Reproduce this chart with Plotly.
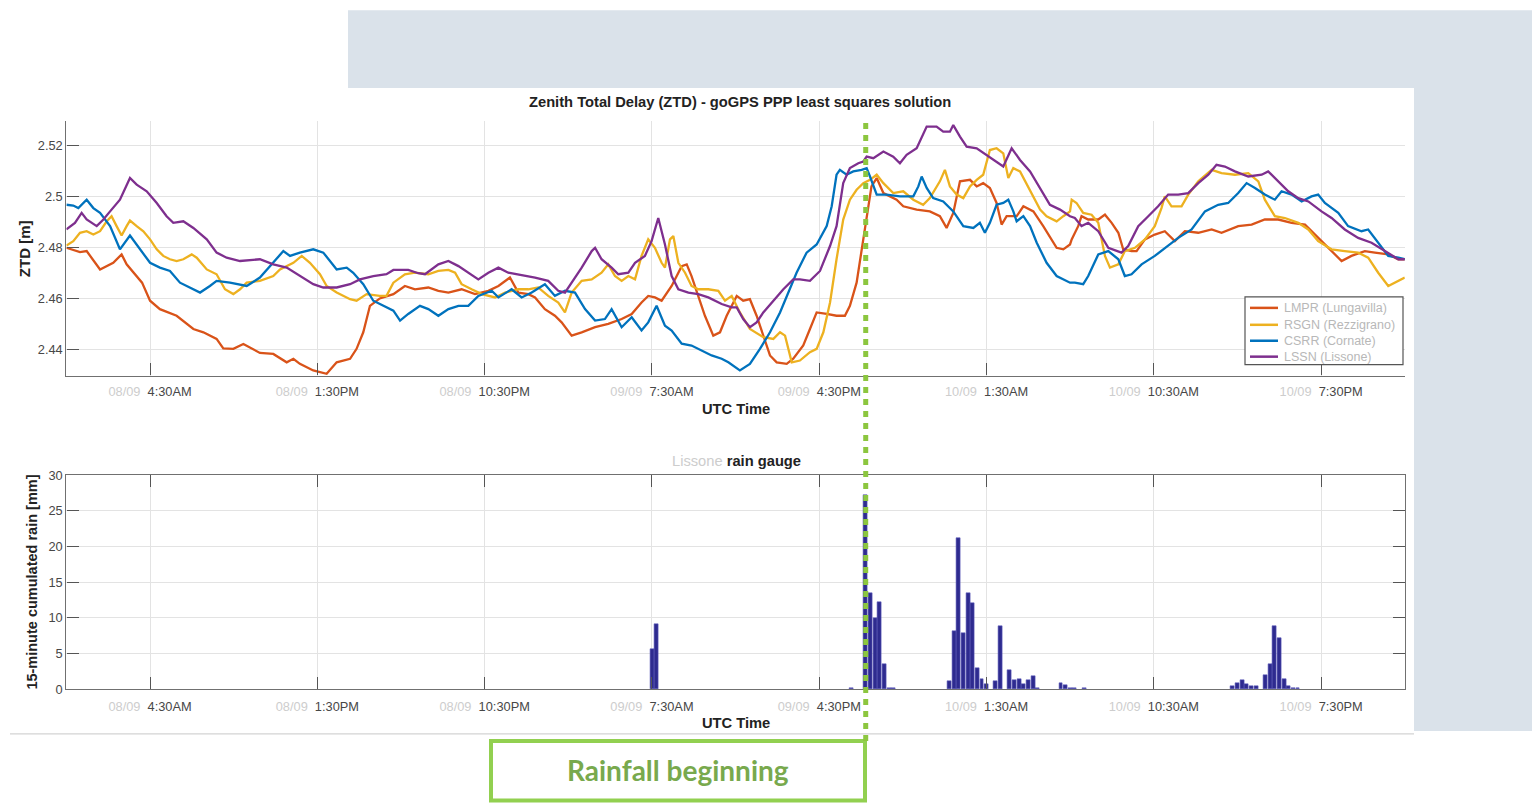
import pandas as pd
import plotly.graph_objects as go

# ---------------- data ----------------
BASE = pd.Timestamp("2017-09-08 00:00")  # 08/09 00:00 UTC

# ZTD [m] series as (hours since 08/09 00:00 UTC, value)
ztd_red = [
    (0.00, 2.4800), (0.73, 2.4783), (1.09, 2.4787), (1.81, 2.4715), (2.52, 2.4741), (2.97, 2.4774),
    (3.24, 2.4735), (4.07, 2.4663), (4.50, 2.4592), (5.03, 2.4559), (5.93, 2.4533), (6.83, 2.4481),
    (7.37, 2.4468), (8.08, 2.4442), (8.44, 2.4405), (8.98, 2.4403), (9.52, 2.4422), (10.41, 2.4387),
    (11.13, 2.4383), (11.85, 2.4350), (12.21, 2.4364), (12.56, 2.4344), (13.28, 2.4318), (14.00, 2.4305),
    (14.54, 2.4350), (15.26, 2.4364), (15.61, 2.4403), (15.97, 2.4468), (16.33, 2.4572), (16.86, 2.4601),
    (17.59, 2.4618), (17.95, 2.4637),
    (18.21, 2.4650), (18.75, 2.4637), (19.47, 2.4644), (20.01, 2.4631), (20.55, 2.4624), (21.26, 2.4637),
    (21.98, 2.4618), (22.70, 2.4631), (23.24, 2.4650), (23.86, 2.4683), (24.31, 2.4624), (24.85, 2.4618),
    (25.21, 2.4605), (25.74, 2.4559), (26.28, 2.4533), (26.64, 2.4507), (27.18, 2.4455), (27.72, 2.4468),
    (28.44, 2.4488), (29.15, 2.4501), (29.87, 2.4520), (30.41, 2.4540), (30.94, 2.4585), (31.30, 2.4611),
    (31.66, 2.4605), (32.02, 2.4592), (32.56, 2.4650), (33.10, 2.4728), (33.37, 2.4735), (33.63, 2.4689),
    (33.99, 2.4611), (34.35, 2.4533), (34.80, 2.4455), (35.16, 2.4468), (35.52, 2.4533),
    (36.06, 2.4611), (36.41, 2.4592), (36.77, 2.4598), (37.13, 2.4533), (37.49, 2.4455), (37.85, 2.4377),
    (38.21, 2.4350), (38.75, 2.4344), (39.10, 2.4364), (39.64, 2.4416), (40.00, 2.4481), (40.36, 2.4546),
    (40.90, 2.4540), (41.43, 2.4533), (41.88, 2.4533), (42.15, 2.4572), (42.51, 2.4663), (42.78, 2.4794),
    (43.05, 2.4924), (43.31, 2.5041), (43.59, 2.5074), (43.95, 2.5015), (44.66, 2.4989), (45.02, 2.4963),
    (45.74, 2.4950), (46.45, 2.4943), (46.99, 2.4924), (47.35, 2.4878), (47.71, 2.4937), (48.07, 2.5061),
    (48.61, 2.5067), (48.97, 2.5041), (49.32, 2.5054), (49.68, 2.5035), (50.04, 2.4976), (50.31, 2.4891),
    (50.58, 2.4924), (51.12, 2.4924), (51.48, 2.4963), (52.02, 2.4943), (52.55, 2.4885), (53.27, 2.4800),
    (53.63, 2.4794), (53.99, 2.4813),
    (54.08, 2.4833), (54.43, 2.4885), (54.61, 2.4924), (54.97, 2.4911), (55.51, 2.4911), (55.87, 2.4930),
    (56.23, 2.4898), (56.59, 2.4859), (56.85, 2.4794), (57.30, 2.4787), (57.57, 2.4787), (58.02, 2.4833),
    (58.55, 2.4852), (59.09, 2.4865), (59.63, 2.4826), (60.17, 2.4865), (60.89, 2.4859), (61.61, 2.4872),
    (62.14, 2.4859), (63.04, 2.4885), (63.76, 2.4891), (64.47, 2.4911), (65.19, 2.4911), (65.91, 2.4898),
    (66.63, 2.4891), (67.16, 2.4852), (67.70, 2.4813), (68.06, 2.4787), (68.60, 2.4748), (69.13, 2.4768),
    (69.85, 2.4787), (70.39, 2.4781), (71.11, 2.4774), (71.65, 2.4755), (72.00, 2.4755),
]

ztd_yellow = [
    (0.00, 2.4809), (0.37, 2.4826), (0.73, 2.4859), (1.09, 2.4865), (1.45, 2.4852), (1.81, 2.4865),
    (2.17, 2.4904), (2.43, 2.4924), (2.70, 2.4885), (2.97, 2.4848), (3.24, 2.4885), (3.42, 2.4907),
    (3.78, 2.4885), (4.14, 2.4865), (4.50, 2.4833), (4.86, 2.4794), (5.21, 2.4768), (5.57, 2.4755),
    (5.93, 2.4748), (6.29, 2.4755), (6.74, 2.4774), (7.01, 2.4761), (7.55, 2.4715), (8.08, 2.4696),
    (8.53, 2.4637), (8.98, 2.4618), (9.34, 2.4637), (9.70, 2.4663), (10.41, 2.4670), (11.13, 2.4689),
    (11.49, 2.4715), (12.21, 2.4741), (12.66, 2.4768), (13.10, 2.4741), (13.64, 2.4696), (14.00, 2.4650),
    (14.54, 2.4624), (15.26, 2.4598), (15.61, 2.4592), (16.15, 2.4618), (16.86, 2.4611), (17.22, 2.4611),
    (17.59, 2.4663), (17.95, 2.4683),
    (18.21, 2.4696), (18.75, 2.4702), (19.47, 2.4696), (20.01, 2.4709), (20.55, 2.4713), (20.91, 2.4702),
    (21.26, 2.4657), (21.80, 2.4637), (22.35, 2.4618), (23.06, 2.4605), (23.60, 2.4624), (24.31, 2.4637),
    (24.85, 2.4637), (25.38, 2.4644), (25.92, 2.4611), (26.46, 2.4585), (26.82, 2.4546), (27.18, 2.4624),
    (27.72, 2.4670), (28.26, 2.4676), (28.79, 2.4702), (29.15, 2.4735), (29.51, 2.4689), (29.87, 2.4670),
    (30.23, 2.4689), (30.59, 2.4676), (30.94, 2.4768), (31.30, 2.4833), (31.66, 2.4800), (32.02, 2.4741),
    (32.20, 2.4722), (32.47, 2.4833), (32.65, 2.4846), (32.92, 2.4741), (33.28, 2.4702), (33.63, 2.4650),
    (33.99, 2.4637), (34.53, 2.4637), (35.07, 2.4631), (35.43, 2.4592), (35.79, 2.4611),
    (36.23, 2.4546), (36.77, 2.4481), (37.49, 2.4449), (38.03, 2.4442), (38.39, 2.4468), (38.66, 2.4455),
    (39.02, 2.4350), (39.46, 2.4357), (40.00, 2.4390), (40.36, 2.4403), (40.72, 2.4468), (41.08, 2.4585),
    (41.43, 2.4755), (41.79, 2.4911), (42.15, 2.4989), (42.51, 2.5028), (42.87, 2.5054), (43.23, 2.5067),
    (43.59, 2.5087), (43.95, 2.5054), (44.48, 2.5015), (45.02, 2.5022), (45.56, 2.4989), (46.09, 2.4969),
    (46.45, 2.4995), (46.99, 2.5061), (47.26, 2.5106), (47.53, 2.5041), (47.89, 2.5009), (48.25, 2.4995),
    (48.61, 2.5041), (48.97, 2.5067), (49.32, 2.5087), (49.68, 2.5184), (50.04, 2.5191), (50.40, 2.5171),
    (50.67, 2.5074), (50.94, 2.5113), (51.30, 2.5100), (51.84, 2.5022), (52.38, 2.4950), (52.73, 2.4924),
    (53.27, 2.4904), (53.63, 2.4924), (53.99, 2.4943),
    (54.08, 2.4989), (54.34, 2.4976), (54.70, 2.4937), (55.15, 2.4930), (55.51, 2.4898), (55.87, 2.4768),
    (56.14, 2.4722), (56.59, 2.4735), (56.94, 2.4787), (57.48, 2.4800), (58.02, 2.4833), (58.55, 2.4885),
    (58.91, 2.4956), (59.09, 2.5002), (59.45, 2.4963), (59.99, 2.4963), (60.35, 2.5009), (60.89, 2.5061),
    (61.61, 2.5106), (62.14, 2.5093), (62.86, 2.5087), (63.58, 2.5093), (64.12, 2.5061), (64.47, 2.4989),
    (65.01, 2.4924), (65.55, 2.4917), (66.27, 2.4898), (66.81, 2.4872), (67.34, 2.4826), (68.06, 2.4794),
    (68.77, 2.4787), (69.49, 2.4781), (70.03, 2.4761), (70.57, 2.4702), (71.11, 2.4650), (71.65, 2.4670),
    (72.00, 2.4683),
]

ztd_blue = [
    (0.00, 2.4969), (0.37, 2.4966), (0.64, 2.4956), (1.09, 2.4989), (1.45, 2.4956), (1.81, 2.4937),
    (2.35, 2.4885), (2.88, 2.4794), (3.42, 2.4848), (3.96, 2.4794), (4.50, 2.4741), (5.03, 2.4722),
    (5.57, 2.4709), (6.11, 2.4663), (6.65, 2.4644), (7.19, 2.4624), (7.72, 2.4650), (8.08, 2.4670),
    (8.80, 2.4663), (9.70, 2.4650), (10.41, 2.4683), (11.13, 2.4741), (11.67, 2.4787), (12.03, 2.4768),
    (12.56, 2.4781), (13.28, 2.4794), (13.82, 2.4781), (14.54, 2.4715), (15.08, 2.4722), (15.43, 2.4702),
    (15.97, 2.4657), (16.51, 2.4592), (17.22, 2.4566), (17.59, 2.4553), (17.95, 2.4514),
    (18.39, 2.4540), (19.02, 2.4572), (19.47, 2.4559), (20.01, 2.4533), (20.55, 2.4559), (21.09, 2.4572),
    (21.62, 2.4572), (22.16, 2.4611), (22.88, 2.4631), (23.24, 2.4605), (23.95, 2.4637), (24.49, 2.4605),
    (25.03, 2.4624), (25.74, 2.4657), (26.28, 2.4611), (26.82, 2.4631), (27.36, 2.4624), (27.90, 2.4559),
    (28.44, 2.4514), (28.97, 2.4520), (29.33, 2.4559), (29.87, 2.4488), (30.41, 2.4527), (30.94, 2.4475),
    (31.30, 2.4507), (31.75, 2.4572), (32.20, 2.4494), (32.56, 2.4475), (33.10, 2.4423), (33.63, 2.4416),
    (34.17, 2.4396), (34.71, 2.4377), (35.25, 2.4364), (35.61, 2.4350),
    (36.23, 2.4318), (36.77, 2.4344), (37.31, 2.4403), (37.85, 2.4468), (38.39, 2.4546), (38.92, 2.4637),
    (39.28, 2.4702), (39.82, 2.4781), (40.36, 2.4813), (40.90, 2.4885), (41.17, 2.4963), (41.43, 2.5087),
    (41.61, 2.5106), (41.97, 2.5087), (42.33, 2.5100), (42.78, 2.5106), (43.05, 2.5113), (43.23, 2.5080),
    (43.59, 2.5009), (44.12, 2.5009), (44.84, 2.5002), (45.56, 2.5002), (45.83, 2.5041), (46.01, 2.5080),
    (46.28, 2.5035), (46.63, 2.4995), (47.17, 2.4982), (47.71, 2.4943), (48.25, 2.4885), (48.79, 2.4878),
    (49.14, 2.4898), (49.41, 2.4859), (49.68, 2.4898), (50.04, 2.4969), (50.40, 2.4976), (50.67, 2.4989),
    (50.94, 2.4943), (51.12, 2.4904), (51.48, 2.4924), (51.84, 2.4885), (52.20, 2.4820), (52.73, 2.4741),
    (53.27, 2.4689), (53.99, 2.4663),
    (54.25, 2.4663), (54.70, 2.4657), (54.97, 2.4689), (55.51, 2.4774), (56.05, 2.4787), (56.59, 2.4755),
    (56.94, 2.4689), (57.30, 2.4696), (57.84, 2.4735), (58.55, 2.4768), (59.09, 2.4800), (59.81, 2.4839),
    (60.53, 2.4872), (61.25, 2.4943), (61.96, 2.4969), (62.50, 2.4976), (63.04, 2.5015), (63.49, 2.5054),
    (63.94, 2.5035), (64.47, 2.5009), (65.01, 2.4989), (65.37, 2.5022), (65.91, 2.5009), (66.45, 2.4982),
    (66.98, 2.5002), (67.34, 2.5009), (67.70, 2.4976), (68.42, 2.4937), (68.95, 2.4885), (69.67, 2.4865),
    (70.03, 2.4872), (70.57, 2.4820), (71.11, 2.4768), (71.65, 2.4761), (72.00, 2.4755),
]

ztd_purple = [
    (0.00, 2.4872), (0.46, 2.4898), (0.82, 2.4937), (1.09, 2.4911), (1.63, 2.4885), (1.99, 2.4911),
    (2.35, 2.4943), (2.88, 2.4989), (3.42, 2.5074), (3.78, 2.5048), (4.32, 2.5022), (4.86, 2.4976),
    (5.39, 2.4924), (5.75, 2.4898), (6.29, 2.4904), (6.83, 2.4878), (7.55, 2.4833), (8.08, 2.4781),
    (8.62, 2.4761), (9.34, 2.4748), (10.41, 2.4755), (11.13, 2.4735), (11.85, 2.4722), (12.56, 2.4689),
    (13.28, 2.4657), (13.82, 2.4644), (14.54, 2.4644), (15.26, 2.4657), (15.79, 2.4676), (16.51, 2.4689),
    (17.22, 2.4696), (17.59, 2.4713), (17.95, 2.4713),
    (18.39, 2.4713), (18.93, 2.4700), (19.29, 2.4696), (20.01, 2.4735), (20.55, 2.4748), (21.09, 2.4728),
    (21.62, 2.4702), (22.16, 2.4676), (22.70, 2.4702), (23.24, 2.4722), (23.77, 2.4702), (24.49, 2.4692),
    (25.21, 2.4683), (25.92, 2.4670), (26.46, 2.4631), (26.82, 2.4624), (27.18, 2.4663), (27.72, 2.4722),
    (28.26, 2.4787), (28.44, 2.4800), (28.79, 2.4755), (29.33, 2.4722), (29.69, 2.4696), (30.23, 2.4702),
    (30.59, 2.4741), (31.12, 2.4768), (31.48, 2.4826), (31.84, 2.4917), (32.20, 2.4813), (32.56, 2.4689),
    (32.92, 2.4637), (33.46, 2.4624), (33.99, 2.4618), (34.53, 2.4605), (35.25, 2.4579), (35.79, 2.4566),
    (36.06, 2.4566), (36.41, 2.4520), (36.77, 2.4488), (37.13, 2.4507), (37.49, 2.4546), (38.03, 2.4592),
    (38.57, 2.4637), (39.10, 2.4676), (39.46, 2.4676), (40.00, 2.4670), (40.54, 2.4709), (41.08, 2.4807),
    (41.43, 2.4885), (41.79, 2.5054), (42.15, 2.5113), (42.60, 2.5132), (42.87, 2.5139), (43.05, 2.5158),
    (43.41, 2.5152), (43.95, 2.5178), (44.48, 2.5158), (44.84, 2.5132), (45.20, 2.5165), (45.74, 2.5191),
    (46.28, 2.5276), (46.81, 2.5276), (47.17, 2.5256), (47.53, 2.5256), (47.71, 2.5282), (48.07, 2.5237),
    (48.43, 2.5197), (48.97, 2.5191), (49.50, 2.5165), (50.04, 2.5139), (50.40, 2.5119), (50.85, 2.5191),
    (51.30, 2.5145), (51.84, 2.5100), (52.38, 2.5035), (52.91, 2.4969), (53.45, 2.4950), (53.99, 2.4924),
    (54.25, 2.4917), (54.61, 2.4885), (54.97, 2.4898), (55.51, 2.4865), (56.05, 2.4800), (56.76, 2.4781),
    (57.12, 2.4807), (57.66, 2.4885), (58.20, 2.4924), (58.73, 2.4963), (59.27, 2.5009), (59.81, 2.5009),
    (60.35, 2.5015), (60.89, 2.5054), (61.43, 2.5087), (61.87, 2.5126), (62.32, 2.5119), (62.86, 2.5100),
    (63.58, 2.5080), (64.30, 2.5087), (64.65, 2.5100), (65.19, 2.5061), (65.73, 2.5022), (66.27, 2.4995),
    (66.81, 2.4982), (67.52, 2.4943), (68.06, 2.4917), (68.77, 2.4872), (69.49, 2.4839), (70.21, 2.4820),
    (70.93, 2.4787), (71.65, 2.4755), (72.00, 2.4755),
]

series_names = ["LMPR (Lungavilla)", "RSGN (Rezzigrano)", "CSRR (Cornate)", "LSSN (Lissone)"]
series_colors = ["#D95319", "#EDB120", "#0072BD", "#7E2F8E"]

# 15-minute cumulated rain [mm] (UTC time of the 15-minute slot)
rain_time = [
    "2017-09-09 07:30", "2017-09-09 07:45",
    "2017-09-09 18:15", "2017-09-09 19:00", "2017-09-09 19:15", "2017-09-09 19:30", "2017-09-09 19:45",
    "2017-09-09 20:00", "2017-09-09 20:15", "2017-09-09 20:30",
    "2017-09-09 23:30", "2017-09-09 23:45", "2017-09-10 00:00", "2017-09-10 00:15", "2017-09-10 00:30",
    "2017-09-10 00:45", "2017-09-10 01:00", "2017-09-10 01:15", "2017-09-10 01:30", "2017-09-10 02:00",
    "2017-09-10 02:15", "2017-09-10 02:45", "2017-09-10 03:00", "2017-09-10 03:15", "2017-09-10 03:30",
    "2017-09-10 03:45", "2017-09-10 04:00", "2017-09-10 04:15", "2017-09-10 05:30", "2017-09-10 05:45",
    "2017-09-10 06:00", "2017-09-10 06:15", "2017-09-10 06:45",
    "2017-09-10 14:45", "2017-09-10 15:00", "2017-09-10 15:15", "2017-09-10 15:30", "2017-09-10 15:45",
    "2017-09-10 16:00", "2017-09-10 16:30", "2017-09-10 16:45", "2017-09-10 17:00", "2017-09-10 17:15",
    "2017-09-10 17:30", "2017-09-10 17:45", "2017-09-10 18:00", "2017-09-10 18:15",
]
rain_mm = [
    5.6, 9.1,
    0.2, 27.2, 13.4, 9.9, 12.2,
    3.5, 0.2, 0.1,
    1.1, 8.1, 21.2, 7.9, 13.4,
    12.0, 2.9, 1.4, 0.7, 1.1,
    8.8, 2.6, 1.2, 1.4, 0.7,
    1.2, 1.8, 0.1, 0.9, 0.5,
    0.1, 0.1, 0.1,
    0.4, 0.9, 1.2, 0.7, 0.4,
    0.4, 2.0, 3.5, 8.9, 7.1,
    1.4, 0.4, 0.1, 0.1,
]

tick_hours = [4.5, 13.5, 22.5, 31.5, 40.5, 49.5, 58.5, 67.5]
tick_dates = ["08/09", "08/09", "08/09", "09/09", "09/09", "10/09", "10/09", "10/09"]
tick_times = ["4:30AM", "1:30PM", "10:30PM", "7:30AM", "4:30PM", "1:30AM", "10:30AM", "7:30PM"]
ztd_ticks = [2.44, 2.46, 2.48, 2.50, 2.52]
ztd_ticktext = ["2.44", "2.46", "2.48", "2.5", "2.52"]
rain_ticks = [0, 5, 10, 15, 20, 25, 30]
rain_start_hour = 43.0  # 09/09 19:00 UTC

# ---------------- figure ----------------
W, H = 1532, 805
def px(x):
    return x / W
def py(y):
    # target pixel row -> paper fraction (compensates the small vertical squeeze of the capture)
    return 1 - ((y - 5.73) / 0.9859) / H

def to_dt(hours):
    return [BASE + pd.Timedelta(hours=h) for h in hours]

FONT = "Liberation Sans, Arial, sans-serif"
tick_dt = to_dt(tick_hours)
tick_txt = [f"<span style='color:#cdcdcd'>{d}</span>  {t}" for d, t in zip(tick_dates, tick_times)]
x_range = [BASE, BASE + pd.Timedelta(hours=72)]

fig = go.Figure()
for data, name, col in zip([ztd_red, ztd_yellow, ztd_blue, ztd_purple], series_names, series_colors):
    hh, vv = zip(*data)
    fig.add_trace(go.Scatter(x=to_dt(hh), y=list(vv), mode="lines", name=name,
                             line=dict(color=col, width=2.3), xaxis="x", yaxis="y"))

fig.add_trace(go.Bar(x=pd.to_datetime(rain_time), y=rain_mm, width=0.85 * 15 * 60 * 1000,
                     marker=dict(color="#2e2b8f", line=dict(color="#5a57b8", width=0.6)),
                     showlegend=False, xaxis="x2", yaxis="y2"))

axis_common = dict(showgrid=True, gridcolor="#e3e3e3", gridwidth=1, zeroline=False,
                   linecolor="#707070", linewidth=1.3, ticks="inside", ticklen=12,
                   tickcolor="#555555", tickwidth=1.2, showline=True,
                   tickfont=dict(family=FONT, size=12.8, color="#474747"))

xdom = [px(66.4), px(1404.8)]
fig.update_layout(
    width=W, height=H, margin=dict(l=0, r=0, t=0, b=0),
    paper_bgcolor="white", plot_bgcolor="white", bargap=0,
    xaxis=dict(axis_common, domain=xdom, type="date", range=x_range, tickvals=tick_dt,
               ticktext=tick_txt, anchor="y", ticklabelstandoff=4),
    yaxis=dict(axis_common, domain=[py(375), py(119)], range=[2.4298, 2.5299],
               tickvals=ztd_ticks, ticktext=ztd_ticktext, anchor="x"),
    xaxis2=dict(axis_common, domain=xdom, type="date", range=x_range, tickvals=tick_dt,
                ticktext=tick_txt, anchor="y2", mirror="ticks", ticklabelstandoff=5),
    yaxis2=dict(axis_common, domain=[py(690), py(475)], range=[0, 30], tickvals=rain_ticks,
                anchor="x2", mirror="ticks"),
    showlegend=False,
)

shapes = [
    dict(type="rect", xref="paper", yref="paper", x0=px(348), x1=1, y0=py(86), y1=py(8),
         fillcolor="#dae2ea", line=dict(width=0), layer="below"),
    dict(type="rect", xref="paper", yref="paper", x0=px(1414), x1=1, y0=py(732), y1=py(86),
         fillcolor="#dae2ea", line=dict(width=0), layer="below"),
    dict(type="line", xref="paper", yref="paper", x0=px(10), x1=px(1414), y0=py(735), y1=py(735),
         line=dict(color="#c8c8c8", width=1)),
    dict(type="rect", xref="paper", yref="paper", x0=px(491), x1=px(865), y0=py(802), y1=py(742),
         fillcolor="white", line=dict(color="#92d050", width=4)),
    dict(type="line", xref="x", yref="paper",
         x0=BASE + pd.Timedelta(hours=rain_start_hour), x1=BASE + pd.Timedelta(hours=rain_start_hour),
         y0=py(742), y1=py(118), line=dict(color="#8cc63f", width=5, dash="6px,6px"), layer="above"),
    # legend box
    dict(type="rect", xref="paper", yref="paper", x0=px(1245), x1=px(1403), y0=py(364), y1=py(296),
         fillcolor="white", line=dict(color="#555555", width=1.2)),
]

TITLE_FONT = dict(family=FONT, size=14.7, color="#222222")
annotations = [
    dict(text="<b>Zenith Total Delay (ZTD) - goGPS PPP least squares solution</b>", x=px(740), y=py(100),
         font=TITLE_FONT),
    dict(text="<b>UTC Time</b>", x=px(736), y=py(409), font=TITLE_FONT),
    dict(text="<span style='color:#cdcdcd'>Lissone</span> <b>rain gauge</b>", x=px(736), y=py(461),
         font=TITLE_FONT),
    dict(text="<b>UTC Time</b>", x=px(736), y=py(724), font=TITLE_FONT),
    dict(text="<b>ZTD [m]</b>", x=px(24), y=py(247), textangle=-90,
         font=dict(family=FONT, size=15, color="#222222")),
    dict(text="<b>15-minute cumulated rain [mm]</b>", x=px(32), y=py(583), textangle=-90,
         font=dict(family=FONT, size=14.5, color="#222222")),
    dict(text="Rainfall beginning", x=px(678), y=py(771),
         font=dict(family="Lato, Noto Sans, sans-serif", size=28, color="#78a94d", weight=700)),
]
for a in annotations:
    a.update(xanchor="center")

# manual legend entries (tight spacing like the MATLAB legend)
legend_rows = [307, 324, 340, 356]
for name, col, yrow in zip(series_names, series_colors, legend_rows):
    shapes.append(dict(type="line", xref="paper", yref="paper", x0=px(1250), x1=px(1278),
                       y0=py(yrow), y1=py(yrow), line=dict(color=col, width=2.5)))
    annotations.append(dict(text=name, x=px(1282), y=py(yrow), xanchor="left",
                            font=dict(family=FONT, size=12.5, color="#b8b8b8")))

for a in annotations:
    a.update(xref="paper", yref="paper", showarrow=False, yanchor="middle")

fig.update_layout(shapes=shapes, annotations=annotations)
fig.write_html("out.html",
               post_script="document.body.style.margin='0';document.body.style.overflow='hidden';")
